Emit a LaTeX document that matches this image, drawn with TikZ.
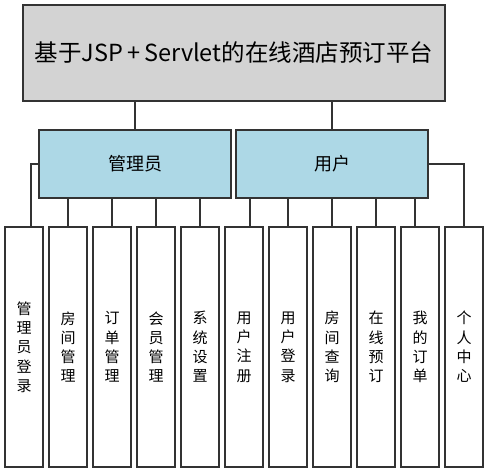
\documentclass[tikz,border=0pt]{standalone}
\usepackage{fontspec}
\setmainfont{Noto Sans CJK SC}
\definecolor{topgray}{HTML}{D3D3D3}
\definecolor{midblue}{HTML}{ADD8E6}
\definecolor{edge}{HTML}{333333}
\begin{document}
\begin{tikzpicture}[x=1pt,y=-1pt,
  box/.style={draw=edge,line width=1.3pt,inner sep=0pt,outer sep=0pt},
  topbox/.style={box,fill=topgray,minimum width=422pt,minimum height=96pt,font=\fontsize{23.5}{26}\selectfont},
  midbox/.style={box,fill=midblue,minimum width=192pt,minimum height=68pt,font=\fontsize{18}{20}\selectfont},
  leaf/.style={box,fill=white,minimum width=38pt,minimum height=240pt,align=center,font=\fontsize{15}{19.3}\selectfont},
  conn/.style={draw=edge,line width=1.3pt}]
\useasboundingbox (0,0) rectangle (489,473);
\node[topbox] (top) at (234,53) {基于JSP\,+\,Servlet的在线酒店预订平台};
\node[midbox] (admin) at (135,164) {管理员};
\node[midbox] (user) at (332,164) {用户};
\node[leaf] (l1) at (24,347) {管\\理\\员\\登\\录};
\node[leaf] (l2) at (68,347) {房\\间\\管\\理};
\node[leaf] (l3) at (112,347) {订\\单\\管\\理};
\node[leaf] (l4) at (156,347) {会\\员\\管\\理};
\node[leaf] (l5) at (200,347) {系\\统\\设\\置};
\node[leaf] (l6) at (244,347) {用\\户\\注\\册};
\node[leaf] (l7) at (288,347) {用\\户\\登\\录};
\node[leaf] (l8) at (332,347) {房\\间\\查\\询};
\node[leaf] (l9) at (376,347) {在\\线\\预\\订};
\node[leaf] (l10) at (420,347) {我\\的\\订\\单};
\node[leaf] (l11) at (464,347) {个\\人\\中\\心};
% top to middle
\draw[conn] (top.south -| 135,0) -- (admin.north);
\draw[conn] (top.south -| user.north) -- (user.north);
% admin children
\draw[conn] (admin.west) -| (l1.north -| 31,0);
\draw[conn] (admin.south -| l2.north) -- (l2.north);
\draw[conn] (admin.south -| l3.north) -- (l3.north);
\draw[conn] (admin.south -| l4.north) -- (l4.north);
\draw[conn] (admin.south -| l5.north) -- (l5.north);
% user children
\draw[conn] (user.south -| 250,0) -- (l6.north -| 250,0);
\draw[conn] (user.south -| l7.north) -- (l7.north);
\draw[conn] (user.south -| l8.north) -- (l8.north);
\draw[conn] (user.south -| l9.north) -- (l9.north);
\draw[conn] (user.south -| 415,0) -- (l10.north -| 415,0);
\draw[conn] (user.east) -| (l11.north);
\end{tikzpicture}
\end{document}
